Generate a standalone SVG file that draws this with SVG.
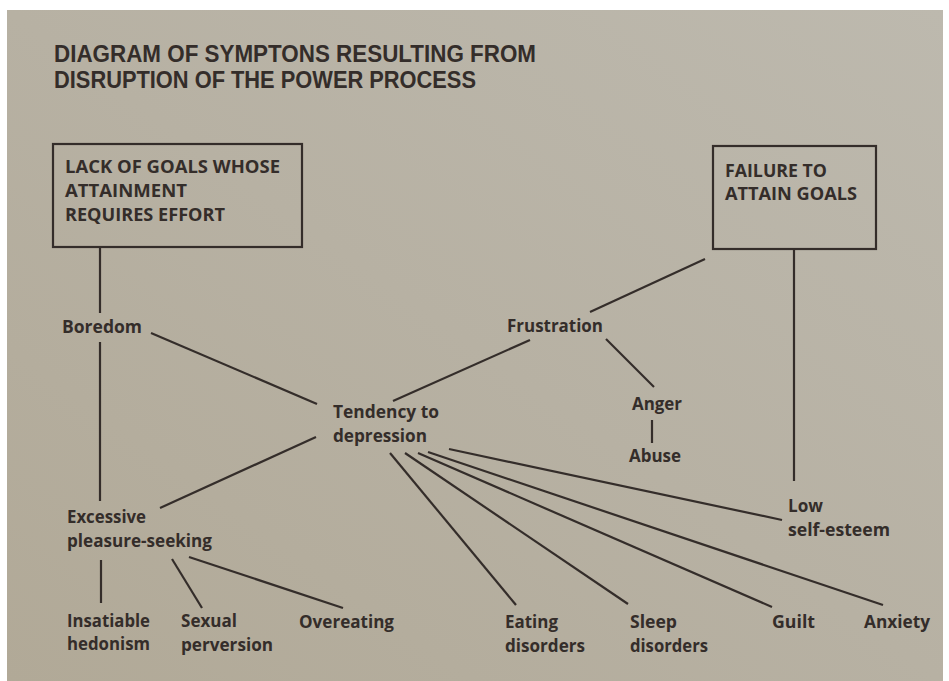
<svg xmlns="http://www.w3.org/2000/svg" width="949" height="681" viewBox="0 0 949 681">
<defs>
<linearGradient id="paper" x1="0" y1="1" x2="1" y2="0">
<stop offset="0" stop-color="#b1a997"/>
<stop offset="0.5" stop-color="#b7b1a3"/>
<stop offset="1" stop-color="#bdb9ae"/>
</linearGradient>
<style>
.t{font-family:"Open Sans","Liberation Sans",sans-serif;font-weight:700;font-size:17px;fill:#342d2a}
.h{font-family:"Liberation Sans","DejaVu Sans",sans-serif;font-weight:700;font-size:23px;fill:#342d2a}
.c line{stroke:#342d2a;stroke-width:2.2;fill:none}
.box{fill:none;stroke:#342d2a;stroke-width:2.2}
</style>
</defs>
<rect x="0" y="0" width="949" height="681" fill="#ffffff"/>
<rect x="7" y="10" width="936" height="671" fill="url(#paper)"/>

<g id="title">
<text class="h" x="54" y="62" textLength="482" lengthAdjust="spacingAndGlyphs">DIAGRAM OF SYMPTONS RESULTING FROM</text>
<text class="h" x="54" y="88" textLength="422" lengthAdjust="spacingAndGlyphs">DISRUPTION OF THE POWER PROCESS</text>
</g>

<g class="c" id="connectors">
<line x1="100" y1="247" x2="100" y2="313"/>
<line x1="100" y1="342" x2="100" y2="501"/>
<line x1="151" y1="333" x2="317" y2="404"/>
<line x1="393" y1="401" x2="530" y2="340"/>
<line x1="316" y1="437" x2="160" y2="508"/>
<line x1="590" y1="312" x2="705" y2="259"/>
<line x1="606" y1="339" x2="654" y2="387"/>
<line x1="652" y1="420" x2="652" y2="443"/>
<line x1="794" y1="249" x2="794" y2="481"/>
<line x1="449" y1="449" x2="782" y2="520"/>
<line x1="428" y1="452" x2="883" y2="605"/>
<line x1="418" y1="453" x2="772" y2="607"/>
<line x1="405" y1="453" x2="628" y2="604"/>
<line x1="390" y1="453" x2="516" y2="605"/>
<line x1="101" y1="560" x2="101" y2="603"/>
<line x1="172" y1="559" x2="202" y2="608"/>
<line x1="189" y1="557" x2="343" y2="608"/>
</g>

<g id="lack-of-goals">
<rect class="box" x="53" y="144" width="249" height="103"/>
<text class="t" x="65" y="173" textLength="215" lengthAdjust="spacingAndGlyphs">LACK OF GOALS WHOSE</text>
<text class="t" x="65" y="197" textLength="122" lengthAdjust="spacingAndGlyphs">ATTAINMENT</text>
<text class="t" x="65" y="221" textLength="160" lengthAdjust="spacingAndGlyphs">REQUIRES EFFORT</text>
</g>

<g id="failure">
<rect class="box" x="713" y="146" width="163" height="103"/>
<text class="t" x="725" y="177" textLength="102" lengthAdjust="spacingAndGlyphs">FAILURE TO</text>
<text class="t" x="725" y="200" textLength="132" lengthAdjust="spacingAndGlyphs">ATTAIN GOALS</text>
</g>

<g id="boredom"><text class="t" x="62" y="333" textLength="80" lengthAdjust="spacingAndGlyphs">Boredom</text></g>
<g id="tendency">
<text class="t" x="333" y="418" textLength="106" lengthAdjust="spacingAndGlyphs">Tendency to</text>
<text class="t" x="333" y="442" textLength="94" lengthAdjust="spacingAndGlyphs">depression</text>
</g>
<g id="frustration"><text class="t" x="507" y="332" textLength="96" lengthAdjust="spacingAndGlyphs">Frustration</text></g>
<g id="anger"><text class="t" x="632" y="410" textLength="50" lengthAdjust="spacingAndGlyphs">Anger</text></g>
<g id="abuse"><text class="t" x="629" y="462" textLength="52" lengthAdjust="spacingAndGlyphs">Abuse</text></g>
<g id="low-self-esteem">
<text class="t" x="788" y="512" textLength="35" lengthAdjust="spacingAndGlyphs">Low</text>
<text class="t" x="788" y="536" textLength="102" lengthAdjust="spacingAndGlyphs">self-esteem</text>
</g>
<g id="excessive">
<text class="t" x="67" y="523" textLength="79" lengthAdjust="spacingAndGlyphs">Excessive</text>
<text class="t" x="67" y="547" textLength="145" lengthAdjust="spacingAndGlyphs">pleasure-seeking</text>
</g>
<g id="insatiable">
<text class="t" x="67" y="627" textLength="83" lengthAdjust="spacingAndGlyphs">Insatiable</text>
<text class="t" x="67" y="650" textLength="83" lengthAdjust="spacingAndGlyphs">hedonism</text>
</g>
<g id="sexual">
<text class="t" x="181" y="627" textLength="56" lengthAdjust="spacingAndGlyphs">Sexual</text>
<text class="t" x="181" y="651" textLength="92" lengthAdjust="spacingAndGlyphs">perversion</text>
</g>
<g id="overeating"><text class="t" x="299" y="628" textLength="95" lengthAdjust="spacingAndGlyphs">Overeating</text></g>
<g id="eating">
<text class="t" x="505" y="628" textLength="53" lengthAdjust="spacingAndGlyphs">Eating</text>
<text class="t" x="505" y="652" textLength="80" lengthAdjust="spacingAndGlyphs">disorders</text>
</g>
<g id="sleep">
<text class="t" x="630" y="628" textLength="47" lengthAdjust="spacingAndGlyphs">Sleep</text>
<text class="t" x="630" y="652" textLength="78" lengthAdjust="spacingAndGlyphs">disorders</text>
</g>
<g id="guilt"><text class="t" x="772" y="628" textLength="43" lengthAdjust="spacingAndGlyphs">Guilt</text></g>
<g id="anxiety"><text class="t" x="864" y="628" textLength="66" lengthAdjust="spacingAndGlyphs">Anxiety</text></g>
</svg>
